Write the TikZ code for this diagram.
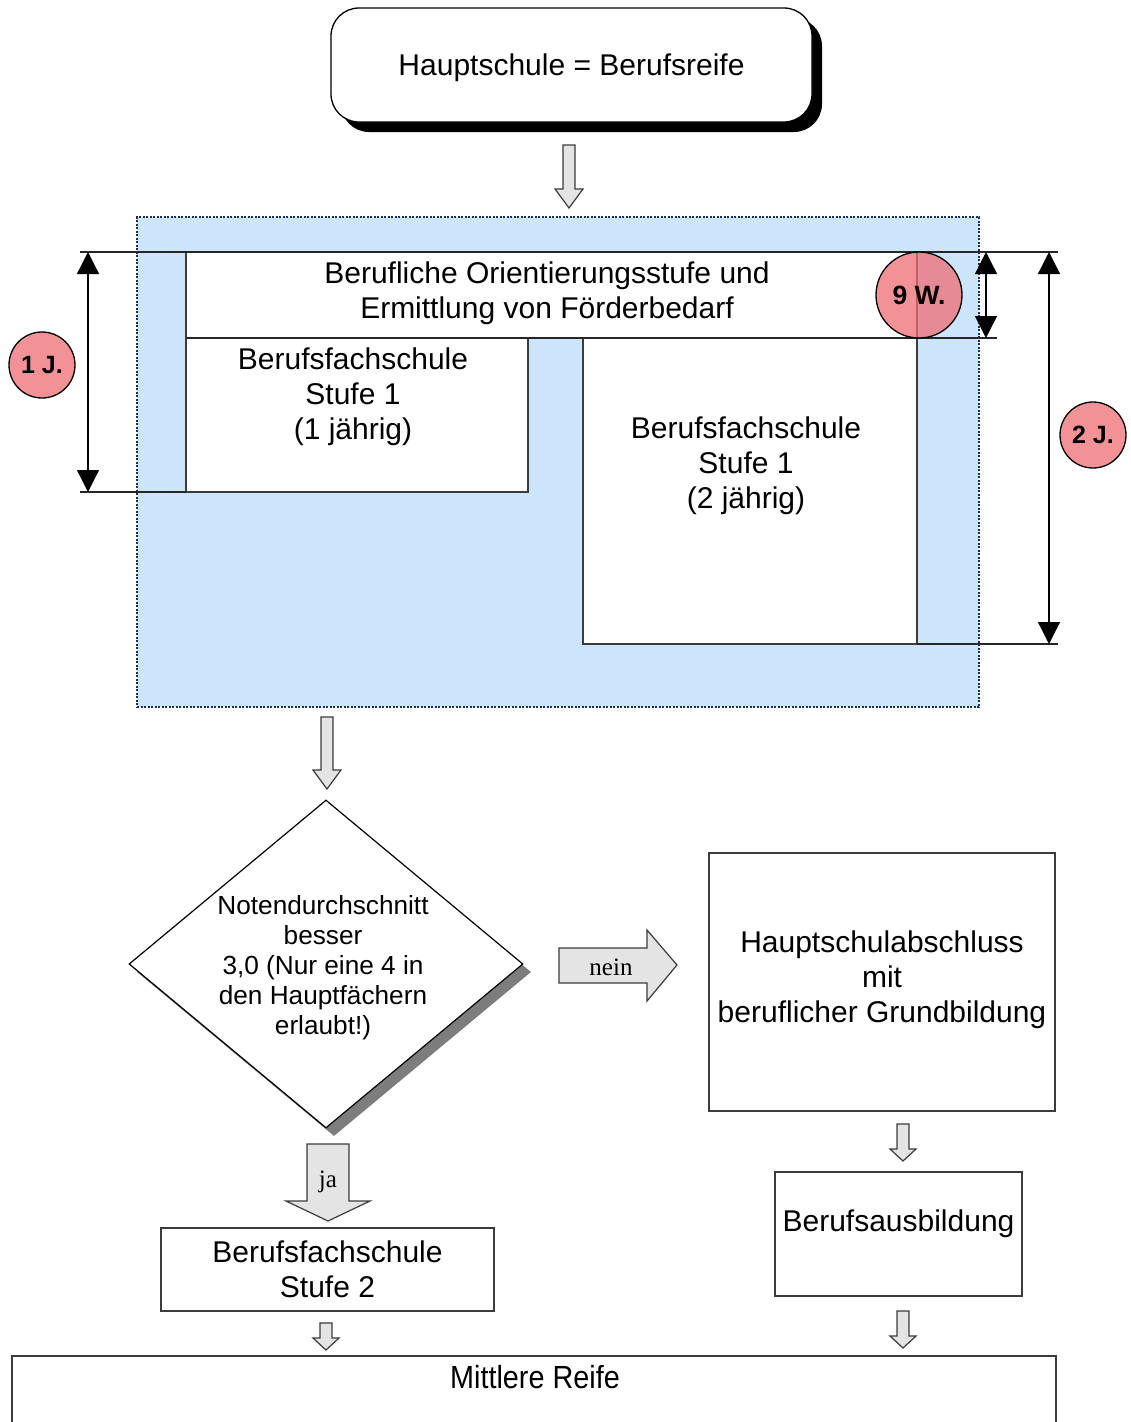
\documentclass[tikz,border=0pt]{standalone}
\usepackage{fontspec}
\usepackage{graphicx}
\setmainfont{Liberation Sans}
\newfontfamily\serifx{Liberation Serif}
\usetikzlibrary{arrows.meta,shapes.geometric}
\definecolor{bluebg}{RGB}{204,228,252}
\definecolor{circ}{RGB}{240,110,115}
\definecolor{arrfill}{RGB}{228,228,228}
\definecolor{edge}{RGB}{60,60,60}
\definecolor{dotc}{RGB}{30,45,80}
\definecolor{shadowgray}{RGB}{125,125,125}
\tikzset{
  box/.style={draw=edge, line width=1.3pt, fill=white, rectangle, inner sep=0pt},
  txt/.style={align=center, font=\fontsize{30}{35}\selectfont, inner sep=0pt},
  badge/.style={circle, draw=black, line width=1.3pt, fill=circ, fill opacity=0.75, text opacity=1, inner sep=0pt},
  dimline/.style={line width=1.3pt, draw=black!85},
  dimarrow/.style={line width=1.3pt, draw=black, {Triangle[width=22pt,length=22pt]}-{Triangle[width=22pt,length=22pt]}},
  blockarrow/.style={draw=edge, line width=1.2pt, fill=arrfill, line join=miter},
  serlabel/.style={font=\serifx\fontsize{25}{25}\selectfont, inner sep=0pt},
}
\newcommand\dnblock[6]{%
  \draw[blockarrow] ({#1-#4},#2) -- ({#1+#4},#2) -- ({#1+#4},{#3-#6}) -- ({#1+#5},{#3-#6}) -- (#1,#3) -- ({#1-#5},{#3-#6}) -- ({#1-#4},{#3-#6}) -- cycle;}
\begin{document}
\begin{tikzpicture}[x=1pt,y=-1pt]
\clip (0,0) rectangle (1131,1422);
\fill[white] (0,0) rectangle (1131,1422);

% top rounded box with shadow
\fill[black, rounded corners=28pt] (341,18) rectangle (822,132);
\node[box, draw=black, rounded corners=28pt, minimum width=481pt, minimum height=114pt] (top) at (571.5,65) {};
\node[txt] at (571.5,68) {Hauptschule = Berufsreife};

\dnblock{569}{145}{208}{6}{14}{19}

% blue area
\node[fill=bluebg, draw=dotc, line width=1.3pt, dash pattern=on 2pt off 1.5pt, minimum width=842pt, minimum height=490pt, inner sep=0pt] (blue) at (558,462) {};

% white boxes
\node[box, minimum width=731pt, minimum height=86pt] (orient) at (551.5,295) {};
\node[box, minimum width=342pt, minimum height=154pt] (bfsa) at (357,415) {};
\node[box, minimum width=334pt, minimum height=306pt] (bfsb) at (750,491) {};
\draw[dimline] (186,338) -- (917,338);

\node[txt] at (547,293) {Berufliche Orientierungsstufe und\\Ermittlung von Förderbedarf};
\node[txt] at (353,397) {Berufsfachschule\\Stufe 1\\(1 jährig)};
\node[txt] at (746,466) {Berufsfachschule\\Stufe 1\\(2 jährig)};

% extension lines
\coordinate (l1a) at (80,252);  \coordinate (l1b) at (1058,252);
\coordinate (l2a) at (917,338); \coordinate (l2b) at (997,338);
\coordinate (l3a) at (80,492);  \coordinate (l3b) at (186,492);
\coordinate (l4a) at (917,644); \coordinate (l4b) at (1058,644);
\draw[dimline] (l1a) -- (l1b);
\draw[dimline] (l2a) -- (l2b);
\draw[dimline] (l3a) -- (l3b);
\draw[dimline] (l4a) -- (l4b);

% dimension arrows
\coordinate (d1t) at (88,252);   \coordinate (d1b) at (88,492);
\coordinate (d2t) at (986,252);  \coordinate (d2b) at (986,338);
\coordinate (d3t) at (1049,252); \coordinate (d3b) at (1049,644);
\draw[dimarrow] (d1t) -- (d1b);
\draw[dimarrow] (d2t) -- (d2b);
\draw[dimarrow] (d3t) -- (d3b);

% badges
\node[badge, minimum size=66pt, font=\bfseries\fontsize{25}{25}\selectfont] (j1) at (42,365) {1 J.};
\node[badge, minimum size=86pt, font=\bfseries\fontsize{26.5}{26.5}\selectfont] (w9) at (919,295) {9 W.};
\node[badge, minimum size=66pt, font=\bfseries\fontsize{25}{25}\selectfont] (j2) at (1093,435) {2 J.};

\dnblock{327}{717}{789}{6}{14}{19}

% decision diamond
\node[diamond, fill=shadowgray, minimum width=394pt, minimum height=328pt, inner sep=0pt] (dshadow) at (334,972) {};
\node[diamond, draw=black, line width=1.2pt, fill=white, minimum width=394pt, minimum height=328pt, inner sep=0pt] (dec) at (326,964) {};
\node[txt, font=\fontsize{26.2}{30}\selectfont] at (323,968) {Notendurchschnitt\\besser\\3,0 (Nur eine 4 in\\den Hauptfächern\\erlaubt!)};

% nein arrow
\draw[blockarrow] (559,948) -- (647,948) -- (647,930) -- (677,965) -- (647,1001) -- (647,983) -- (559,983) -- cycle;
\node[serlabel] (nein) at (611,967) {nein};

% right column
\node[box, minimum width=346pt, minimum height=258pt] (haupt) at (882,982) {};
\node[txt] at (882,980) {Hauptschulabschluss\\mit\\beruflicher Grundbildung};
\dnblock{903}{1124}{1161}{6}{13}{12}
\node[box, minimum width=247pt, minimum height=124pt] (ausb) at (898.5,1234) {};
\node[txt] at (898.5,1224) {Berufsausbildung};
\dnblock{903}{1311}{1348}{6}{13}{12}

% ja arrow
\dnblock{328}{1144}{1221}{21}{42}{20}
\node[serlabel] (ja) at (328,1182) {ja};

\node[box, minimum width=333pt, minimum height=83pt] (bfs2) at (327.5,1269.5) {};
\node[txt] at (327.5,1269) {Berufsfachschule\\Stufe 2};
\dnblock{326}{1323}{1350}{6}{13}{12}

% bottom box
\node[box, minimum width=1044pt, minimum height=94pt] (mittel) at (534,1403) {};
\node[inner sep=0pt] at (535,1377) {\scalebox{0.9}[1]{\fontsize{32}{32}\selectfont Mittlere Reife}};
\end{tikzpicture}
\end{document}
